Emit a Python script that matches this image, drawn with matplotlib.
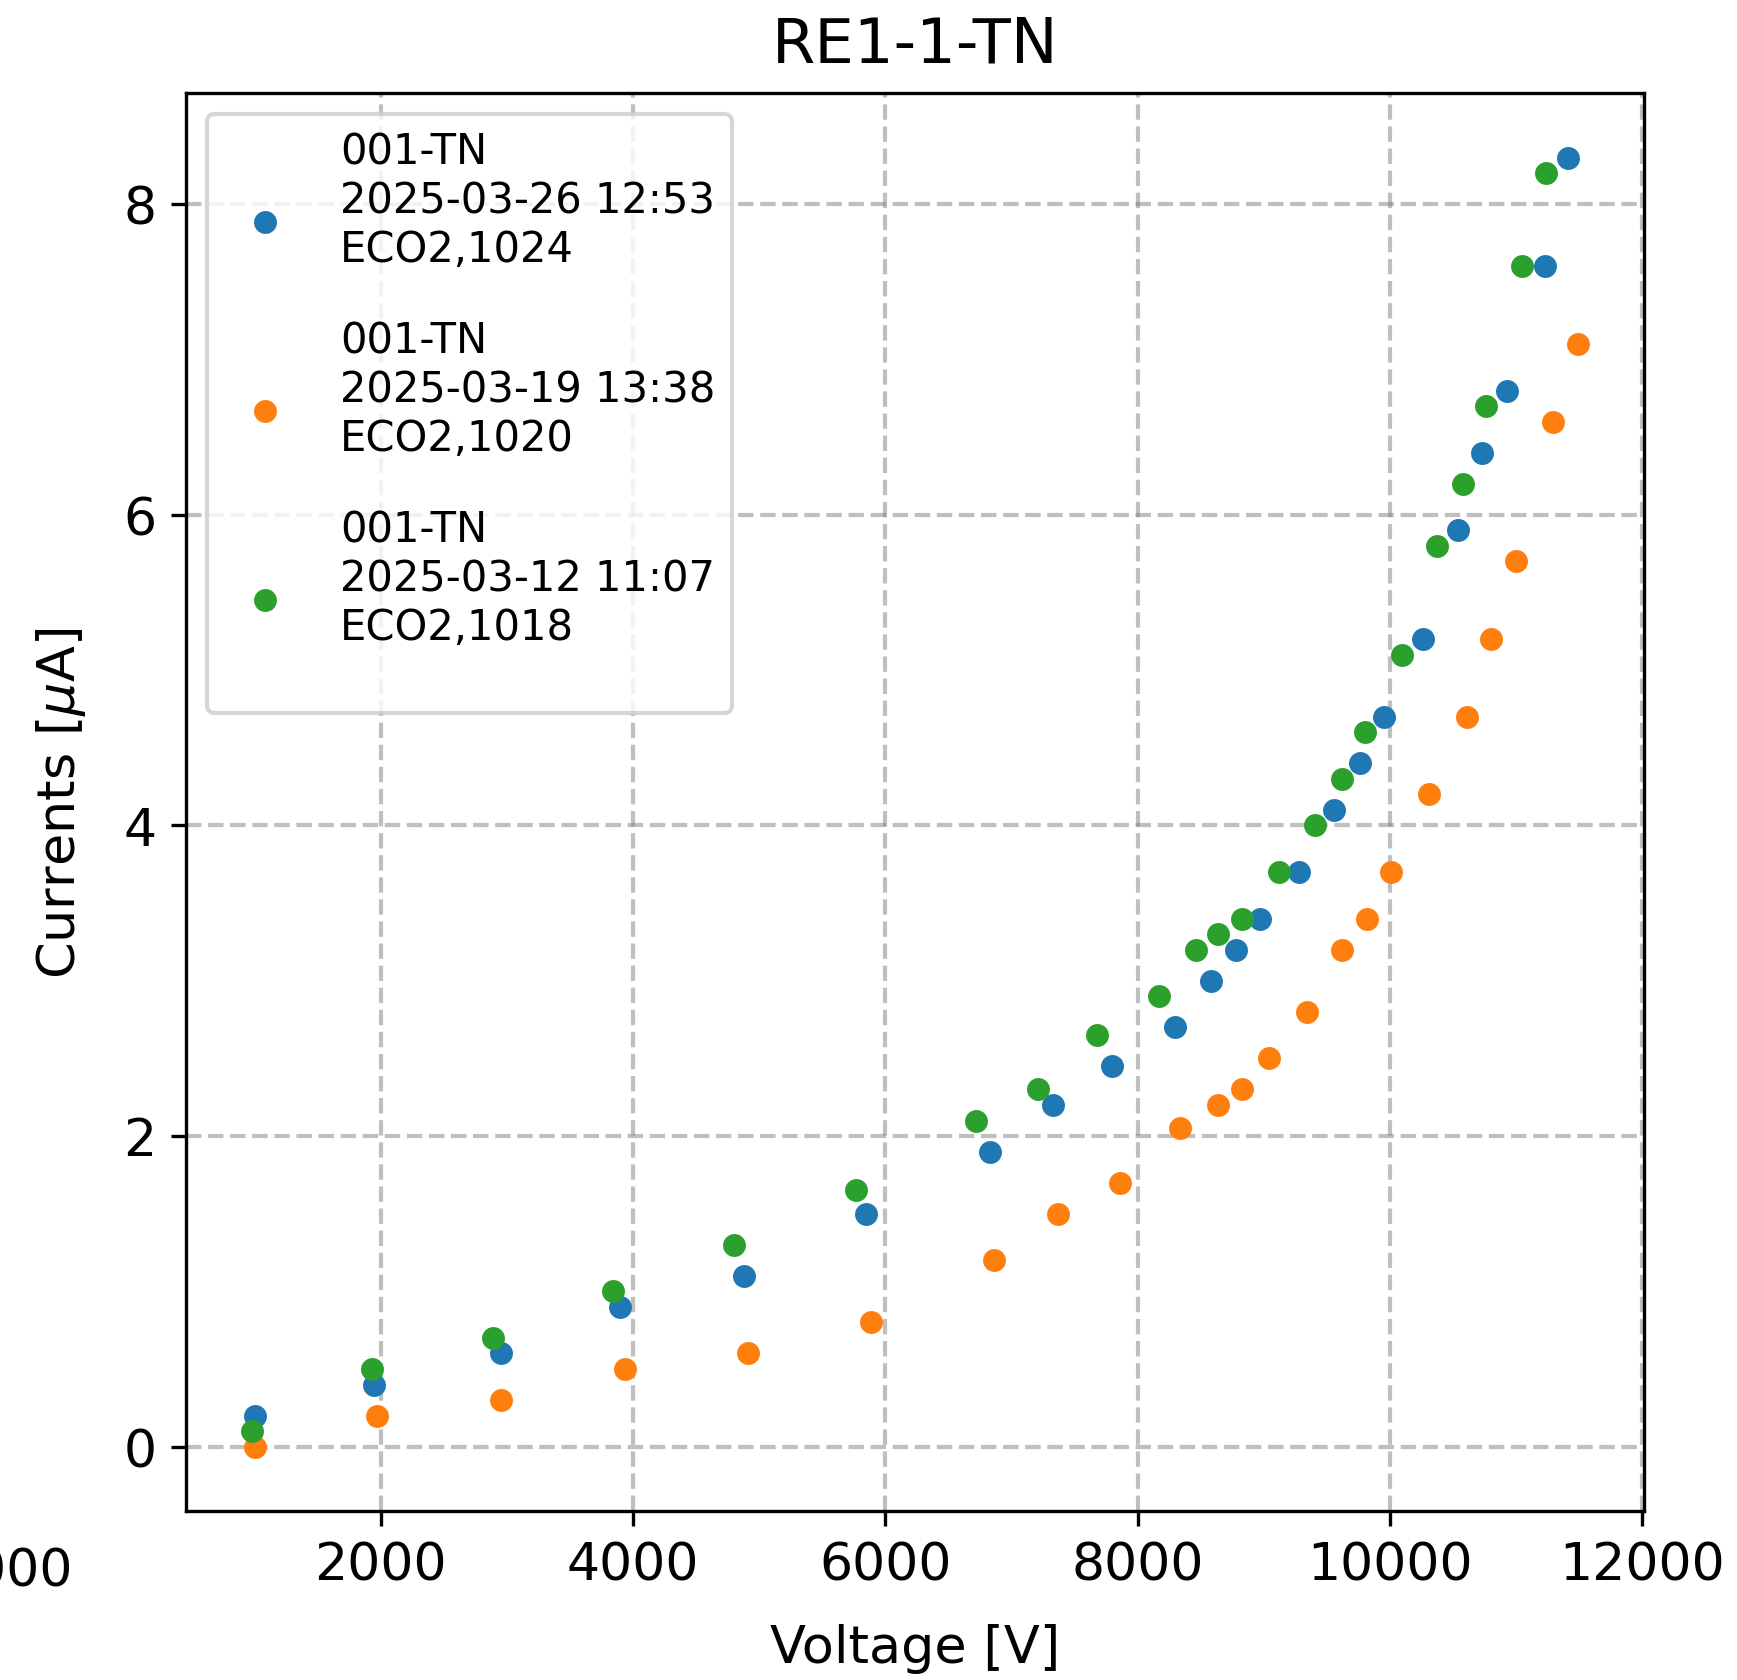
import numpy as np
import matplotlib
matplotlib.use('Agg')
import matplotlib.pyplot as plt

# run 2025-03-26 (blue)
v_0326 = [1000, 1950, 2950, 3900, 4880, 5850, 6830, 7330, 7800, 8300, 8580,
          8780, 8970, 9280, 9560, 9760, 9950, 10260, 10540, 10730, 10930, 11230, 11410]
i_0326 = [0.2, 0.4, 0.6, 0.9, 1.1, 1.5, 1.9, 2.2, 2.45, 2.7, 3.0,
          3.2, 3.4, 3.7, 4.1, 4.4, 4.7, 5.2, 5.9, 6.4, 6.8, 7.6, 8.3]

# run 2025-03-19 (orange)
v_0319 = [1000, 1970, 2950, 3940, 4910, 5890, 6860, 7370, 7860, 8340, 8640,
          8830, 9040, 9340, 9620, 9820, 10010, 10310, 10610, 10800, 11000, 11290, 11490]
i_0319 = [0.0, 0.2, 0.3, 0.5, 0.6, 0.8, 1.2, 1.5, 1.7, 2.05, 2.2,
          2.3, 2.5, 2.8, 3.2, 3.4, 3.7, 4.2, 4.7, 5.2, 5.7, 6.6, 7.1]

# run 2025-03-12 (green)
v_0312 = [980, 1930, 2890, 3840, 4800, 5770, 6720, 7210, 7680, 8170, 8460,
          8640, 8830, 9120, 9410, 9620, 9800, 10100, 10370, 10580, 10760, 11050, 11240]
i_0312 = [0.1, 0.5, 0.7, 1.0, 1.3, 1.65, 2.1, 2.3, 2.65, 2.9, 3.2,
          3.3, 3.4, 3.7, 4.0, 4.3, 4.6, 5.1, 5.8, 6.2, 6.7, 7.6, 8.2]

labels = ['001-TN\n2025-03-26 12:53\nECO2,1024\n',
          '001-TN\n2025-03-19 13:38\nECO2,1020\n',
          '001-TN\n2025-03-12 11:07\nECO2,1018\n']

fig = plt.figure(figsize=(5.79, 5.603), dpi=300)
ax = fig.add_axes([0.107, 0.1005, 0.8395, 0.8435])

ax.plot(v_0326, i_0326, 'o', markersize=5.5, mew=0, label=labels[0])
ax.plot(v_0319, i_0319, 'o', markersize=5.5, mew=0, label=labels[1])
ax.plot(v_0312, i_0312, 'o', markersize=5.5, mew=0, label=labels[2])

ax.set_title('RE1-1-TN', fontsize=15, pad=7.5)
ax.set_xlabel('Voltage [V]', fontsize=12.6, labelpad=8)
ax.set_ylabel(r'Currents [$\mu$A]', fontsize=12.6, labelpad=8.5)
ax.tick_params(labelsize=12.5)
ax.set_xticks([2000, 4000, 6000, 8000, 10000, 12000])
ax.set_yticks([0, 2, 4, 6, 8])
ax.grid(True, linestyle='--', color='gray', alpha=0.5, linewidth=1.0)
ax.legend(loc='upper left', fontsize=10, labelspacing=0.03, handleheight=1.5)

# tick label cut off at the left edge in the original
fig.text(0.042, 0.0643, '1000', ha='right', va='center', fontsize=12.5)

fig.savefig('out.png', dpi=300)
